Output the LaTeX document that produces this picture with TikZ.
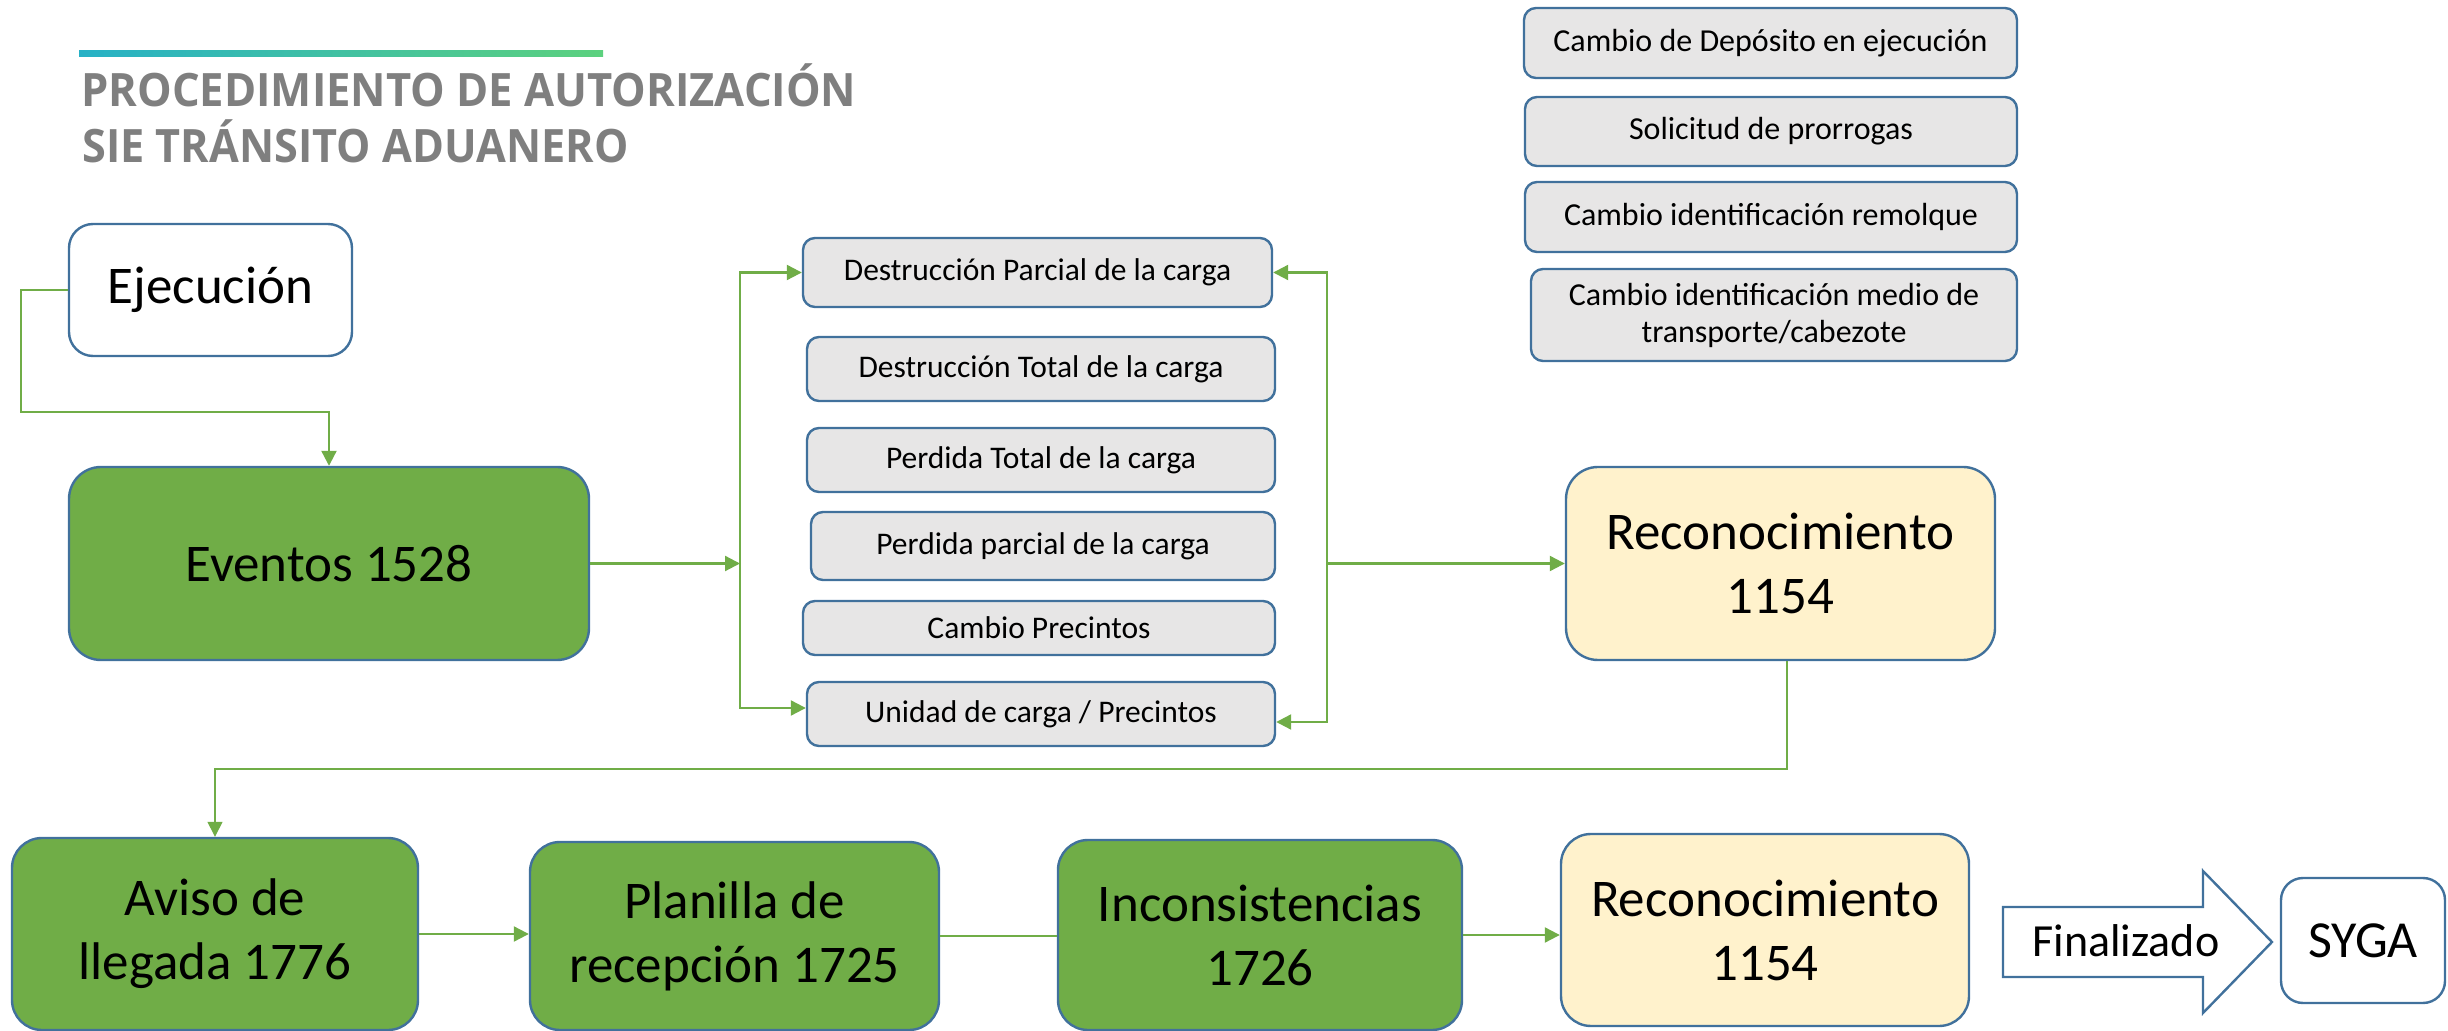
\documentclass[tikz,border=0pt]{standalone}
\usepackage{fontspec}
\setmainfont{Carlito}
\newfontfamily\titlefont{Open Sans}
\usepackage{graphicx}
\usetikzlibrary{arrows.meta,calc}
\definecolor{gfill}{HTML}{70AD47}
\definecolor{bdr}{HTML}{41719C}
\definecolor{greyf}{HTML}{E7E6E6}
\definecolor{yel}{HTML}{FFF2CC}
\definecolor{ttl}{HTML}{7F7F7F}
\definecolor{lcA}{HTML}{27B1C6}
\definecolor{lcB}{HTML}{5CD17E}
\begin{document}
\begin{tikzpicture}[x=0.5pt,y=-0.5pt,
  bx/.style={draw=bdr, line width=1.2pt, inner sep=0pt, align=center, text=black},
  big/.style={bx, font=\fontsize{26.5}{32}\selectfont, rounded corners=15pt},
  small/.style={bx, fill=greyf, font=\fontsize{15.75}{18.5}\selectfont, rounded corners=6pt},
  conn/.style={draw=gfill, line width=1.1pt},
  arr/.style={conn, -{Triangle[length=7.5pt,width=7.5pt]}},
  arrtwo/.style={conn, {Triangle[length=7.5pt,width=7.5pt]}-{Triangle[length=7.5pt,width=7.5pt]}},
  arrthin/.style={draw=gfill, line width=0.7pt, -{Triangle[length=7.5pt,width=7.5pt]}},
  ttlstyle/.style={anchor=base west, inner sep=0pt, text=ttl, font=\titlefont\bfseries\fontsize{23}{28}\selectfont},
]
\useasboundingbox (0,0) rectangle (2448,1031);

% title
\shade[left color=lcA, right color=lcB] (79,50.5) rectangle (603,56.5);
\node[ttlstyle] (t1) at (81,107) {\resizebox{387.5pt}{\height}{PROCEDIMIENTO DE AUTORIZACIÓN}};
\node[ttlstyle] (t2) at (82,163) {\resizebox{273pt}{\height}{SIE TRÁNSITO ADUANERO}};

% main boxes
\node[big, fill=white, minimum width=141.5pt, minimum height=66pt, rounded corners=12pt] (ej) at (210.5,290) {Ejecución};
\node[big, fill=gfill, minimum width=260pt, minimum height=96.5pt, rounded corners=16pt] (ev) at (329,563.5) {Eventos 1528};
\node[big, fill=yel, minimum width=214.5pt, minimum height=96.5pt, rounded corners=16pt] (r1) at (1780.5,563.5) {Reconocimiento\\1154};

% grey event boxes
\node[small, minimum width=234.5pt, minimum height=34.5pt] (dp) at (1037.5,272.5) {Destrucción Parcial de la carga};
\node[small, minimum width=234pt, minimum height=32pt] (dt) at (1041,369) {Destrucción Total de la carga};
\node[small, minimum width=234pt, minimum height=32pt] (pt) at (1041,460) {Perdida Total de la carga};
\node[small, minimum width=232pt, minimum height=34pt] (pp) at (1043,546) {Perdida parcial de la carga};
\node[small, minimum width=236pt, minimum height=27pt] (cp) at (1039,628) {Cambio Precintos};
\node[small, minimum width=234pt, minimum height=32pt] (uc) at (1041,714) {Unidad de carga / Precintos};

% top right boxes
\node[small, minimum width=246.5pt, minimum height=35pt, font=\fontsize{16}{18.5}\selectfont] (tra) at (1770.5,43) {Cambio de Depósito en ejecución};
\node[small, minimum width=246pt, minimum height=34.5pt, font=\fontsize{16}{18.5}\selectfont] (trb) at (1771,131.5) {Solicitud de prorrogas};
\node[small, minimum width=246pt, minimum height=35pt, font=\fontsize{16}{18.5}\selectfont] (trc) at (1771,217) {Cambio identificación remolque};
\node[small, minimum width=243pt, minimum height=46pt, font=\fontsize{16}{18.5}\selectfont] (trd) at (1774,315) {Cambio identificación medio de\\transporte/cabezote};

% bottom row
\node[big, fill=gfill, minimum width=203pt, minimum height=96pt] (av) at (215,934) {Aviso de\\llegada 1776};
\node[big, fill=gfill, minimum width=204.5pt, minimum height=94pt] (pl) at (734.5,936) {Planilla de\\recepción 1725};
\node[big, fill=gfill, minimum width=202pt, minimum height=95pt] (inc) at (1260,935) {Inconsistencias\\1726};
\node[big, fill=yel, minimum width=204pt, minimum height=96pt] (r2) at (1765,930) {Reconocimiento\\1154};

% block arrow
\draw[draw=bdr, line width=1.2pt, fill=white] (2003,907) -- (2203,907) -- (2203,871) -- (2272,942) -- (2203,1013) -- (2203,977) -- (2003,977) -- cycle;
\node[inner sep=0pt, font=\fontsize{23}{28}\selectfont] (fin) at (2126,941) {Finalizado};
\node[big, fill=white, minimum width=82pt, minimum height=62.5pt, rounded corners=11pt, font=\fontsize{26}{31}\selectfont] (sy) at (2363,940.5) {SYGA};

% connectors
\coordinate (e2) at (21,412);
\draw[arr] (ej.west) -| (e2) -| (ev.north);
\coordinate (lb) at (740,708);
\coordinate (rb) at (1327,722);
\draw[arrtwo] (dp.west) -| (lb) -- (lb -| uc.west);
\draw[arrtwo] (dp.east) -| (rb) -- (rb -| uc.east);
\draw[arr] (ev.east) -- (ev.east -| lb);
\draw[arr] (r1.west -| rb) -- (r1.west);
\coordinate (rr) at (1787,769);
\draw[arrthin] (r1.south -| rr) -- (rr) -| (av.north);
\draw[arr] (av.east) -- (av.east -| pl.west);
\draw[conn] (pl.east) -- (pl.east -| inc.west);
\draw[arr] (inc.east) -- (inc.east -| r2.west);
\end{tikzpicture}
\end{document}
